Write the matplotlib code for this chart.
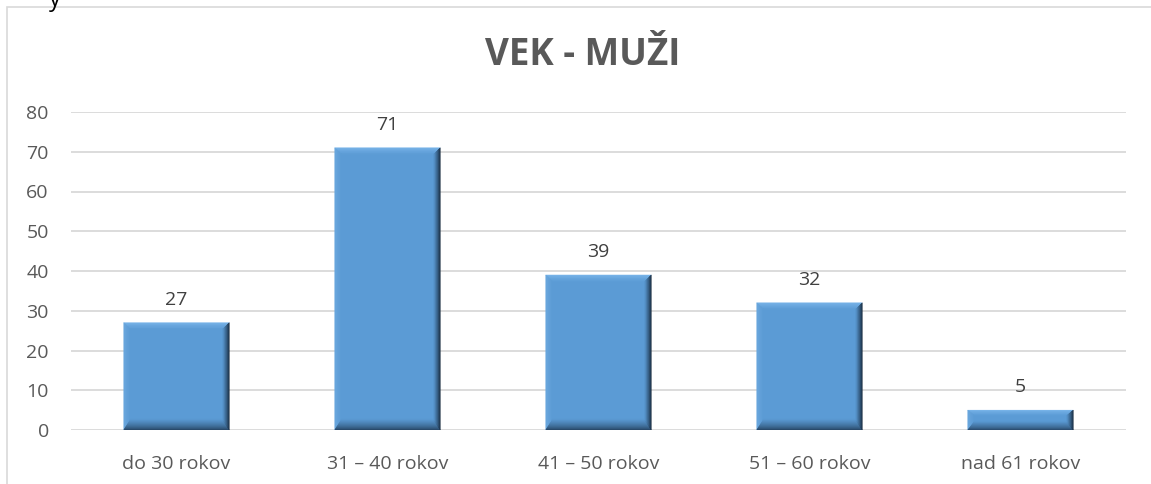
import matplotlib.pyplot as plt
from matplotlib.patches import Polygon, Rectangle
from matplotlib.colors import to_rgb
import numpy as np

categories = ["do 30 rokov", "31 – 40 rokov", "41 – 50 rokov", "51 – 60 rokov", "nad 61 rokov"]
values = [27, 71, 39, 32, 5]
yticks = [0, 10, 20, 30, 40, 50, 60, 70, 80]
title = "VEK - MUŽI"

plt.rcParams['font.family'] = ['Open Sans', 'DejaVu Sans']
W, H = 1151, 484
fig = plt.figure(figsize=(W/100, H/100), dpi=100)
fig.patch.set_facecolor('white')

# chart border
fig.patches.append(Rectangle((7/W, -0.1), 1.2, (H-7)/H + 0.1, transform=fig.transFigure,
                             fill=False, edgecolor='#D9D9D9', linewidth=1.2))
# cut-off text at top-left (as in the reference)
fig.text(49/W, 1.0, "y", ha='left', va='center', fontsize=17, color='black')

ax = fig.add_axes([71/W, (H-430)/H, (1126-71)/W, (430-112)/H])
x = np.arange(len(categories))
bw = 0.5
main = '#5B9BD5'
bars = ax.bar(x, values, width=bw, color=main, edgecolor='none', zorder=3)

ax.set_xlim(-0.5, len(categories)-0.5)
ax.set_ylim(0, 80)
ax.set_yticks(yticks)
ax.set_xticks(x)
ax.set_xticklabels(categories)
ax.tick_params(axis='both', length=0, labelsize=14, colors='#595959')
ax.tick_params(axis='y', pad=16)
ax.tick_params(axis='x', pad=18)
for s in ax.spines.values():
    s.set_visible(False)
ax.grid(axis='y', color='#D9D9D9', linewidth=1.3, zorder=0)
ax.set_axisbelow(True)

# bevel effect (gradient bands) derived from each bar patch
fig.canvas.draw()
to_disp = ax.transData
inv = ax.transData.inverted()
mc = np.array(to_rgb(main))

def band_face(A, B, A2, B2, c_out, c_in, n=10, z=4):
    A, B, A2, B2 = map(np.array, (A, B, A2, B2))
    co, ci = np.array(to_rgb(c_out)), np.array(to_rgb(c_in))
    for i in range(n):
        t0, t1 = i / n, (i + 1) / n
        pts = [A + t0*(A2-A), B + t0*(B2-B), B + t1*(B2-B), A + t1*(A2-A)]
        f = (i + 0.5) / n
        col = co + (ci - co) * (f ** 0.8)
        ax.add_patch(Polygon([inv.transform(p) for p in pts], closed=True,
                             facecolor=col, edgecolor=col, linewidth=0.3, zorder=z))

for b in bars:
    x0, y0 = b.get_x(), b.get_y()
    x1, y1 = x0 + b.get_width(), y0 + b.get_height()
    (px0, py0) = to_disp.transform((x0, y0))
    (px1, py1) = to_disp.transform((x1, y1))
    h = py1 - py0
    dt = min(7.0, h * 0.3)
    db = min(11.0, h * 0.45)
    ds = 7.0
    bl, br, tr, tl = (px0, py0), (px1, py0), (px1, py1), (px0, py1)
    ibl, ibr = (px0 + ds, py0 + db), (px1 - ds, py0 + db)
    itr, itl = (px1 - ds, py1 - dt), (px0 + ds, py1 - dt)
    band_face(tl, tr, itl, itr, '#7DB8EC', main)          # top
    band_face(tl, bl, itl, ibl, '#6EAAE0', main)          # left
    band_face(bl, br, ibl, ibr, '#24415F', main)          # bottom
    band_face(tr, br, itr, ibr, '#0F1E2E', main, z=4.5)   # right

for xi, v in zip(x, values):
    ax.annotate(str(v), (xi, v), xytext=(0, 10), textcoords='offset points',
                ha='center', va='bottom', fontsize=14, color='#404040')

fig.text(583/W, (H-55)/H, title, ha='center', va='center', fontsize=26.5,
         fontweight='bold', color='#595959')

fig.savefig('out.png', dpi=100)
